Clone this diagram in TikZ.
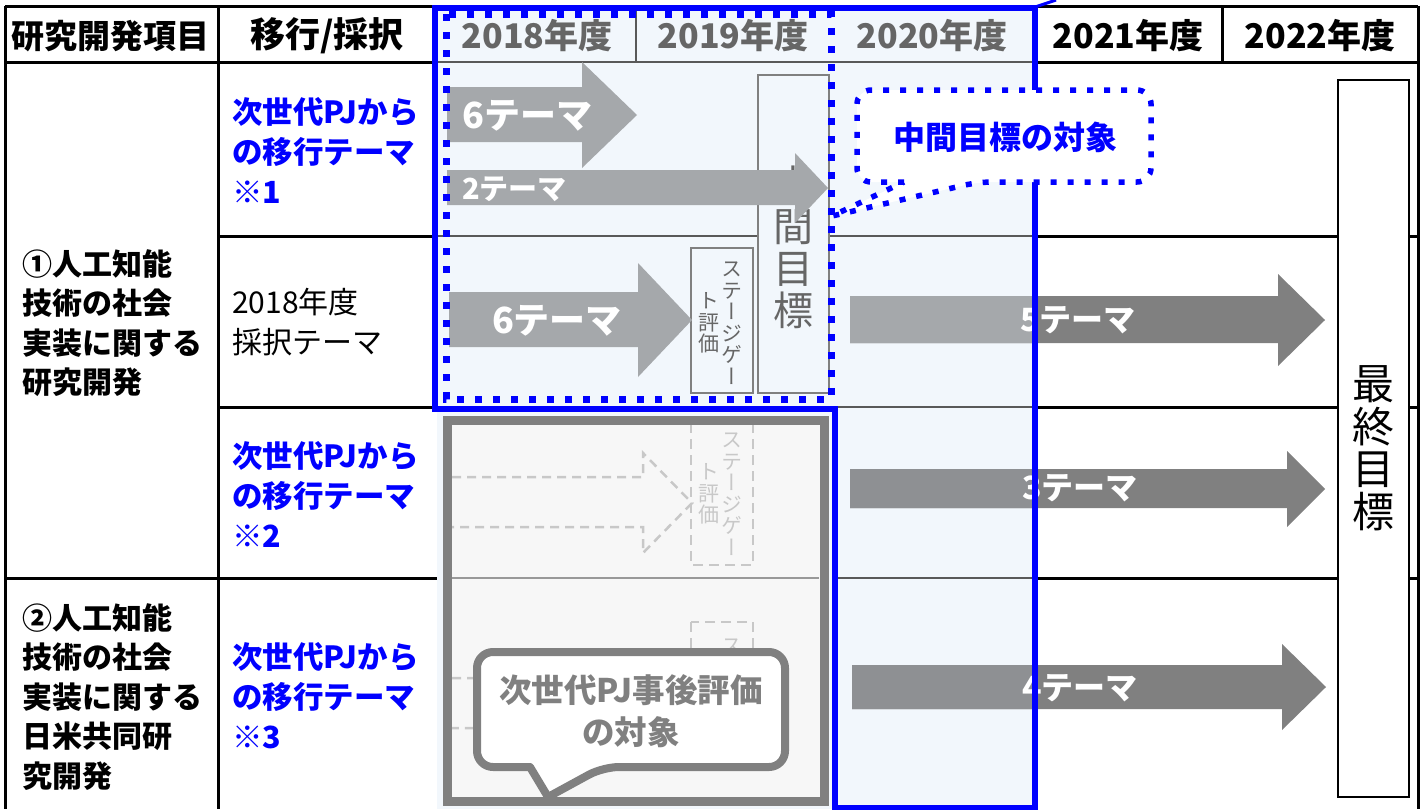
\documentclass[tikz,border=0pt]{standalone}
\usepackage{fontspec}
\setmainfont{Noto Sans CJK JP}
\newfontfamily\vfont[RawFeature=+vert]{Noto Sans CJK JP}
\definecolor{lb}{HTML}{F2F7FC}
\definecolor{ag}{HTML}{A5A8AB}
\definecolor{ag2}{HTML}{8E9093}
\definecolor{dg}{HTML}{808080}
\definecolor{tg}{HTML}{666666}
\definecolor{lg}{HTML}{C8C8C8}
\definecolor{bx}{HTML}{F7F7F7}
\definecolor{rowgray}{HTML}{595959}
\definecolor{pblue}{HTML}{0000FF}
\newcommand{\blockarrow}[9]{\fill[#1] (#2,#3) -- (#5,#3) -- (#5,#6) -- (#8,#9) -- (#5,#7) -- (#5,#4) -- (#2,#4) -- cycle;}
\tikzset{
  tline/.style={black, line width=3},
  gline/.style={rowgray, line width=2},
  hdr/.style={inner sep=0, font=\bfseries\fontsize{34}{34}\selectfont},
  hdrg/.style={hdr, text=tg},
  lbl/.style={inner sep=0, anchor=west, align=left, font=\bfseries\fontsize{30}{39.5}\selectfont},
  bluelbl/.style={lbl, text=pblue, font=\bfseries\fontsize{30.5}{40}\selectfont},
  plainlbl/.style={inner sep=0, anchor=west, align=left, font=\fontsize{30}{40}\selectfont},
  arrtxt/.style={inner sep=0, text=white, font=\bfseries\fontsize{36}{36}\selectfont},
  vt/.style={inner sep=0, align=center, font=\vfont\fontsize{21}{21.5}\selectfont},
  gatebox/.style={dg, line width=1.5, fill=lb},
  dashbox/.style={lg, line width=2.5, dash pattern=on 10 off 6},
  dasharr/.style={lg, line width=2.5, dash pattern=on 9 off 6},
  blueout/.style={pblue, line width=6},
  bluedot/.style={pblue, line width=7, dash pattern=on 7 off 11},
}
\begin{document}
\begin{tikzpicture}[x=1pt,y=-1pt]
\useasboundingbox (0,0) rectangle (1421,809);
\fill[white] (0,0) rectangle (1421,809);
\fill[lb] (437,6) rectangle (1035,809);

% ---- table lines ----
\draw[gline] (437,62) -- (1035,62);
\draw[gline] (437,236) -- (1035,236);
\draw[gline] (437,407) -- (1035,407);
\draw[gline] (835,578) -- (1035,578);
\draw[gline] (636,6) -- (636,62);
\draw[tline] (5,6) -- (437,6);
\draw[tline] (1035,6) -- (1418,6);
\draw[tline] (5,62) -- (437,62);
\draw[tline] (1035,62) -- (1418,62);
\draw[tline] (218,236) -- (437,236);
\draw[tline] (1035,236) -- (1418,236);
\draw[tline] (218,407) -- (437,407);
\draw[tline] (1035,407) -- (1418,407);
\draw[tline] (5,578) -- (437,578);
\draw[tline] (1035,578) -- (1418,578);
\draw[tline] (5,6) -- (5,809);
\draw[tline] (218,6) -- (218,809);
\draw[tline] (1222,6) -- (1222,62);
\draw[tline] (1418,6) -- (1418,809);

% ---- headers ----
\node[hdr, font=\bfseries\fontsize{33}{33}\selectfont] (h1) at (111,36) {研究開発項目};
\node[hdr, font=\bfseries\fontsize{35}{35}\selectfont] (h2) at (327,36) {移行/採択};
\node[hdrg] (h3) at (537,36) {2018年度};
\node[hdrg] (h4) at (733,36) {2019年度};
\node[hdrg] (h5) at (932,36) {2020年度};
\node[hdr] (h6) at (1128,36) {2021年度};
\node[hdr] (h7) at (1320,36) {2022年度};

% ---- left labels ----
\node[lbl] (g1) at (22,323) {①人工知能\\技術の社会\\実装に関する\\研究開発};
\node[lbl] (g2) at (22,697) {②人工知能\\技術の社会\\実装に関する\\日米共同研\\究開発};
\node[bluelbl] (r1) at (232,150) {次世代PJから\\の移行テーマ\\※1};
\node[plainlbl] (r2) at (232,322) {2018年度\\採択テーマ};
\node[bluelbl] (r3) at (232,494) {次世代PJから\\の移行テーマ\\※2};
\node[bluelbl] (r4) at (232,696) {次世代PJから\\の移行テーマ\\※3};

% ---- middle goal box ----
\draw[gatebox] (758,75) rectangle (829,393);
\node[inner sep=0, align=center, text=tg, font=\fontsize{40}{42}\selectfont] (mid) at (793,247) {中\\間\\目\\標};

% ---- stage gate 1 ----
\draw[gatebox] (691,248) rectangle (753,393);
\node[vt, text=tg] (sg1a) at (732,323) {ス\\テ\\ー\\ジ\\ゲ\\ー};
\node[vt, text=tg] (sg1b) at (709,323) {ト\\評\\価};

% ---- upper arrows ----
\blockarrow{ag}{447}{170}{205}{795}{153}{223}{828}{188}
\blockarrow{ag}{447}{87}{142}{582}{62}{168}{637}{115}
\blockarrow{ag}{449}{292}{347}{638}{263}{377}{692}{320}
\node[arrtxt, anchor=west] (t6a) at (462,116) {6テーマ};
\node[arrtxt, anchor=west, font=\bfseries\fontsize{29}{29}\selectfont] (t2) at (462,189) {2テーマ};
\node[arrtxt] (t6b) at (557,321) {6テーマ};

% ---- right arrows ----
\blockarrow{dg}{850}{296}{343}{1278}{274}{366}{1325}{320}
\blockarrow{dg}{850}{469}{508}{1287}{451}{527}{1325}{489}
\blockarrow{dg}{852}{665}{709}{1282}{644}{730}{1326}{687}
\begin{scope}
\clip (437,0) rectangle (1033,809);
\blockarrow{ag}{850}{296}{343}{1278}{274}{366}{1325}{320}
\blockarrow{ag2}{850}{469}{508}{1287}{451}{527}{1325}{489}
\blockarrow{ag2}{852}{665}{709}{1282}{644}{730}{1326}{687}
\end{scope}
\node[arrtxt, font=\bfseries\fontsize{32}{32}\selectfont] (t5) at (1078,320) {5テーマ};
\node[arrtxt, font=\bfseries\fontsize{32}{32}\selectfont] (t3) at (1080,488) {3テーマ};
\node[arrtxt, font=\bfseries\fontsize{32}{32}\selectfont] (t4) at (1080,688) {4テーマ};

% ---- final goal ----
\draw[black, line width=2, fill=white] (1338,80) rectangle (1409,797);
\node[inner sep=0, align=center, font=\fontsize{42}{42.5}\selectfont] (fin) at (1373,448) {最\\終\\目\\標};

% ---- gray (previous project) region ----
\fill[bx] (447,420) rectangle (824,801);
\draw[gray!80, line width=2.5] (452,578) -- (819,578);
\draw[dasharr] (452,477) -- (643,477) -- (643,453) -- (692,503) -- (643,553) -- (643,527) -- (452,527);
\draw[dashbox] (691,423) rectangle (753,565);
\node[vt, text=lg] (sg2a) at (732,494) {ス\\テ\\ー\\ジ\\ゲ\\ー};
\node[vt, text=lg] (sg2b) at (709,494) {ト\\評\\価};
\draw[dasharr] (452,678) -- (643,678) -- (643,656) -- (692,703) -- (643,750) -- (643,728) -- (452,728);
\draw[dashbox] (691,622) rectangle (753,764);
\node[vt, text=lg] (sg3a) at (732,646) {ス};
\draw[dg, line width=9] (447,420) rectangle (824,801);

% callout 2
\draw[dg, line width=8, fill=white, line join=round] (530,767) [rounded corners=16] -- (477,767) -- (477,652) -- (785,652) -- (785,767) -- (603,767) [sharp corners] -- (548,797) -- cycle;
\node[inner sep=0, align=center, text=dg, font=\bfseries\fontsize{32.5}{42}\selectfont] (c2) at (631,711) {次世代PJ事後評価\\の対象};

% ---- blue outlines ----
\draw[blueout] (435,8) -- (1035,8) -- (1035,808) -- (835,808) -- (835,409) -- (435,409) -- cycle;
\draw[pblue, line width=3] (1035,7) -- (1056,0);
\draw[bluedot] (446,14) rectangle (831,399);

% callout 1
\draw[pblue, line width=5.5, dash pattern=on 6 off 11, fill=white] (904,182) [rounded corners=14] -- (857,182) -- (857,90) -- (1151,90) -- (1151,182) -- (978,182) [sharp corners] -- (832,216) -- cycle;
\node[inner sep=0, text=pblue, font=\bfseries\fontsize{32}{32}\selectfont] (c1) at (1005,137) {中間目標の対象};
\end{tikzpicture}
\end{document}
